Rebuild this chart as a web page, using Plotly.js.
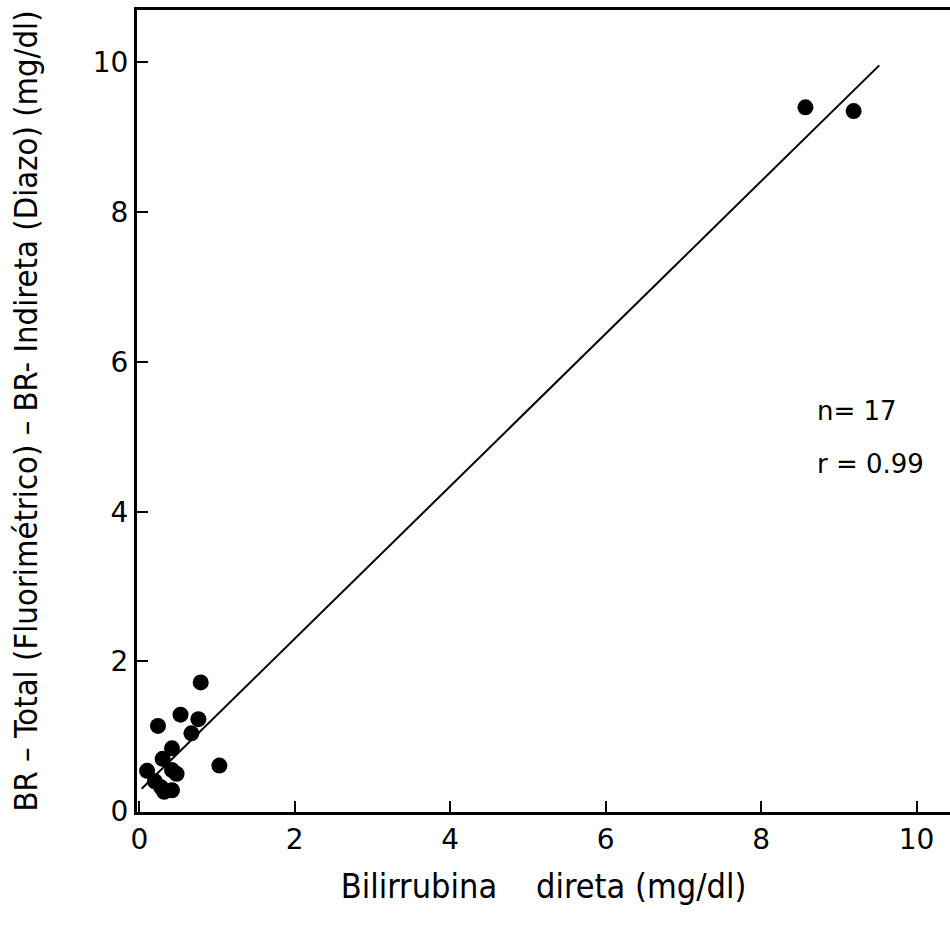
<!DOCTYPE html>
<html>
<head>
<meta charset="utf-8">
<script src="https://cdn.plot.ly/plotly-3.0.1.min.js"></script>
<style>html,body{margin:0;padding:0;background:#fff;}#chart{width:950px;height:938px;}</style>
</head>
<body>
<div id="chart"></div>
<script>
// Direct bilirubin (mg/dl)
const directBR = [0.79, 0.24, 0.53, 0.76, 0.67, 1.03, 0.42, 0.30, 0.10, 0.42, 0.48, 0.20, 0.28, 0.42, 0.32, 8.57, 9.19];
// BR total (fluorimetric) - BR indirect (diazo) (mg/dl)
const diffBR = [1.72, 1.14, 1.29, 1.23, 1.04, 0.61, 0.84, 0.70, 0.54, 0.55, 0.50, 0.40, 0.32, 0.28, 0.26, 9.40, 9.35];
// Regression line end points
const fitX = [0.03, 9.52];
const fitY = [0.30, 9.96];
const tickVals = [0, 2, 4, 6, 8, 10];
const tickText = ["0", "2", "4", "6", "8", "10"];

const font = "DejaVu Sans, Liberation Sans, sans-serif";
const condFont = "DejaVu Sans Condensed, Liberation Sans Narrow, DejaVu Sans, sans-serif";

const traces = [
  {x: fitX, y: fitY, mode: "lines", line: {color: "#000", width: 2}, hoverinfo: "skip", showlegend: false},
  {x: directBR, y: diffBR, mode: "markers", marker: {color: "#000", size: 16}, showlegend: false}
];

const layout = {
  width: 950, height: 938,
  margin: {l: 137, r: 0, t: 10, b: 126},
  paper_bgcolor: "#fff", plot_bgcolor: "#fff",
  showlegend: false,
  xaxis: {
    range: [-0.03, 10.43], tickvals: tickVals, ticktext: tickText,
    ticks: "inside", ticklen: 11, tickwidth: 2, tickcolor: "#000",
    showline: true, linewidth: 3, linecolor: "#000", mirror: true,
    showgrid: false, zeroline: false,
    tickfont: {family: font, size: 28, color: "#000"},
    title: {text: "Bilirrubina    direta (mg/dl)", font: {family: condFont, size: 34, color: "#000"}, standoff: 20}
  },
  yaxis: {
    range: [-0.01, 10.70], tickvals: tickVals, ticktext: tickText,
    ticks: "inside", ticklen: 11, tickwidth: 2, tickcolor: "#000",
    showline: true, linewidth: 3, linecolor: "#000", mirror: false,
    showgrid: false, zeroline: false,
    tickfont: {family: font, size: 28, color: "#000"},
    title: {text: "BR – Total (Fluorimétrico) – BR- Indireta (Diazo) (mg/dl)", font: {family: condFont, size: 32.5, color: "#000"}, standoff: 46}
  },
  annotations: [
    {xref: "paper", yref: "paper", x: 0.834, y: 0.5, text: "n= 17", showarrow: false, xanchor: "left", yanchor: "middle",
     font: {family: font, size: 26, color: "#000"}},
    {xref: "paper", yref: "paper", x: 0.834, y: 0.434, text: "r = 0.99", showarrow: false, xanchor: "left", yanchor: "middle",
     font: {family: font, size: 26, color: "#000"}}
  ]
};

Plotly.newPlot("chart", traces, layout, {displayModeBar: false, staticPlot: true});
</script>
</body>
</html>
